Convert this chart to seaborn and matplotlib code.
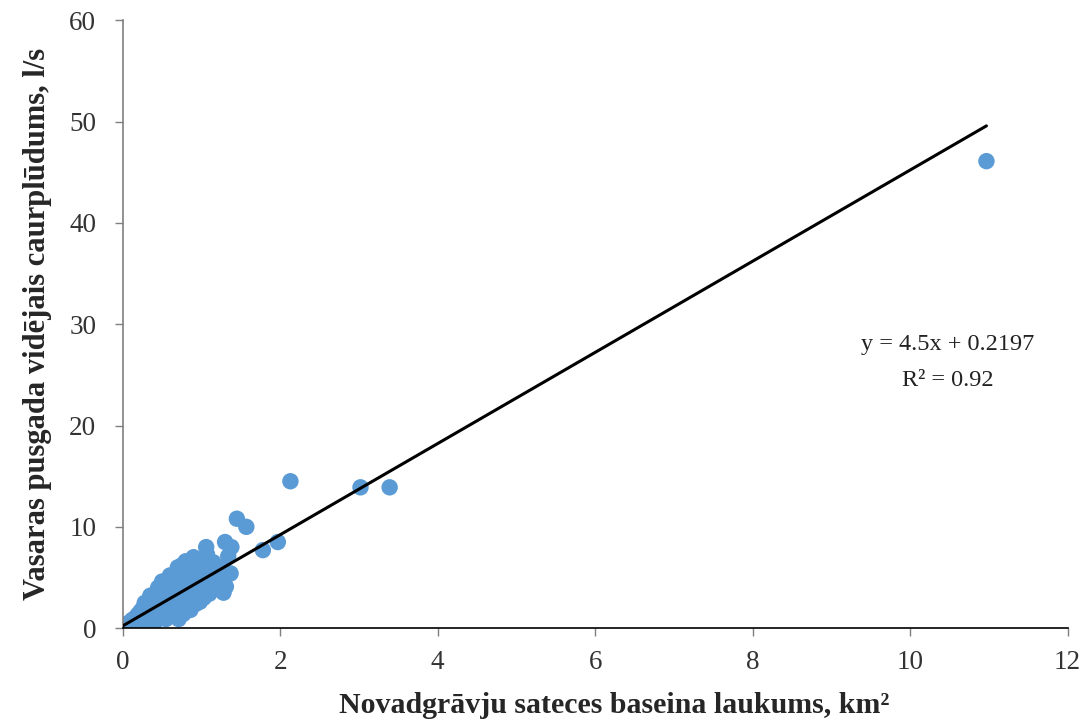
import numpy as np
import pandas as pd
import matplotlib
matplotlib.use("Agg")
import matplotlib.pyplot as plt
import seaborn as sns

# basin area, km2 (dense cluster + outliers)
area_km2 = [
    0.01, 0.02, 0.03, 0.05, 0.05, 0.07, 0.08, 0.10, 0.10, 0.12, 0.12, 0.14,
    0.15, 0.16, 0.18, 0.18, 0.20, 0.20, 0.20, 0.22, 0.23, 0.24, 0.25, 0.26,
    0.27, 0.28, 0.28, 0.30, 0.30, 0.30, 0.32, 0.33, 0.34, 0.35, 0.35, 0.36,
    0.37, 0.38, 0.39, 0.40, 0.40, 0.41, 0.42, 0.43, 0.44, 0.45, 0.45, 0.46,
    0.47, 0.48, 0.49, 0.50, 0.50, 0.50, 0.51, 0.52, 0.53, 0.54, 0.55, 0.55,
    0.56, 0.57, 0.58, 0.59, 0.60, 0.60, 0.60, 0.61, 0.62, 0.63, 0.64, 0.65,
    0.66, 0.67, 0.68, 0.69, 0.70, 0.70, 0.71, 0.72, 0.73, 0.74, 0.75, 0.75,
    0.76, 0.77, 0.78, 0.79, 0.80, 0.80, 0.81, 0.82, 0.83, 0.84, 0.85, 0.86,
    0.87, 0.88, 0.89, 0.90, 0.90, 0.92, 0.93, 0.94, 0.95, 0.96, 0.98, 0.99,
    1.00, 1.00, 1.02, 1.03, 1.05, 1.06, 1.07, 1.08, 1.10, 1.10, 1.12, 1.14,
    1.15, 1.17, 1.18, 1.20, 1.22,
    1.28, 1.31, 1.37, 1.30, 1.38, 1.34, 1.45, 1.57, 1.78, 1.97, 2.13, 3.02,
    3.39, 10.97,
]
# mean summer half-year discharge, l/s
flow_ls = [
    0.10, 0.05, 0.20, 0.30, 0.10, 0.50, 0.20, 0.60, 0.30, 0.80, 0.20, 0.90,
    0.50, 0.30, 1.20, 0.70, 1.40, 0.90, 0.40, 1.10, 1.70, 0.60, 1.30, 2.00,
    0.90, 1.60, 2.50, 2.20, 1.20, 0.50, 1.90, 2.60, 0.90, 1.50, 3.20, 2.30,
    3.00, 1.10, 1.80, 2.70, 3.30, 0.60, 2.10, 1.40, 3.00, 3.60, 4.00, 2.40,
    1.00, 1.80, 3.30, 4.00, 2.80, 4.60, 1.30, 2.20, 3.70, 4.40, 0.90, 3.00,
    1.70, 2.50, 4.10, 4.80, 3.40, 1.20, 5.20, 2.00, 4.50, 2.80, 5.00, 3.80,
    1.50, 2.40, 4.20, 5.30, 3.10, 6.00, 0.90, 2.00, 4.70, 3.50, 5.60, 6.20,
    2.60, 1.40, 4.00, 5.00, 3.00, 6.60, 6.00, 2.20, 4.40, 3.60, 5.40, 1.80,
    6.50, 2.80, 4.80, 7.00, 3.90, 5.80, 2.40, 3.30, 4.40, 6.20, 2.60, 5.10,
    3.80, 6.70, 4.60, 3.00, 5.60, 8.00, 7.30, 4.10, 3.40, 6.10, 5.00, 4.40,
    6.50, 3.90, 5.30, 4.70, 6.00,
    3.50, 4.10, 5.40, 8.50, 8.00, 7.10, 10.8, 10.0, 7.70, 8.50, 14.5, 13.9,
    13.9, 46.1,
]

slope = 4.5
intercept = 0.2197
r2 = 0.92

df = pd.DataFrame({"area": area_km2, "flow": flow_ls})

sns.set_style("white")
plt.rcParams["font.family"] = ["Liberation Serif", "DejaVu Serif"]

fig, ax = plt.subplots(figsize=(10.86, 7.27), dpi=100)
fig.subplots_adjust(left=0.113, right=0.983, bottom=0.136, top=0.972)

sns.scatterplot(data=df, x="area", y="flow", ax=ax, color="#5B9BD5",
                s=140, edgecolor="none", zorder=2)

# linear trendline
x_fit = np.array([0, max(area_km2)])
ax.plot(x_fit, slope * x_fit + intercept, color="black", lw=2.2, zorder=3)

ax.text(10.48, 28.0, f"y = {slope}x + {intercept}", ha="center", va="center",
        fontsize=17.5, color="#222222")
ax.text(10.48, 24.4, f"R² = {r2}", ha="center", va="center",
        fontsize=17.5, color="#222222")

ax.set_xlim(0, 12)
ax.set_ylim(0, 60)
ax.set_xticks(range(0, 13, 2))
ax.set_yticks(range(0, 61, 10))

for side in ["top", "right"]:
    ax.spines[side].set_visible(False)
ax.spines["left"].set_color("#7f7f7f")
ax.spines["left"].set_linewidth(1.2)
ax.spines["bottom"].set_color("black")
ax.spines["bottom"].set_linewidth(1.2)

ax.tick_params(axis="both", direction="out", length=6, width=1, colors="#7f7f7f",
               labelcolor="#333333", labelsize=19.5, left=True, bottom=True)
ax.tick_params(axis="x", pad=10)
ax.tick_params(axis="y", pad=13)

ax.set_xlabel("Novadgrāvju sateces baseina laukums, km²", fontsize=21.5,
              fontweight="bold")
ax.set_ylabel("Vasaras pusgada vidējais caurplūdums, l/s", fontsize=22,
              fontweight="bold")
ax.xaxis.set_label_coords(0.52, -0.105)
ax.yaxis.set_label_coords(-0.075, 0.50)

fig.savefig("out.png", dpi=100)
